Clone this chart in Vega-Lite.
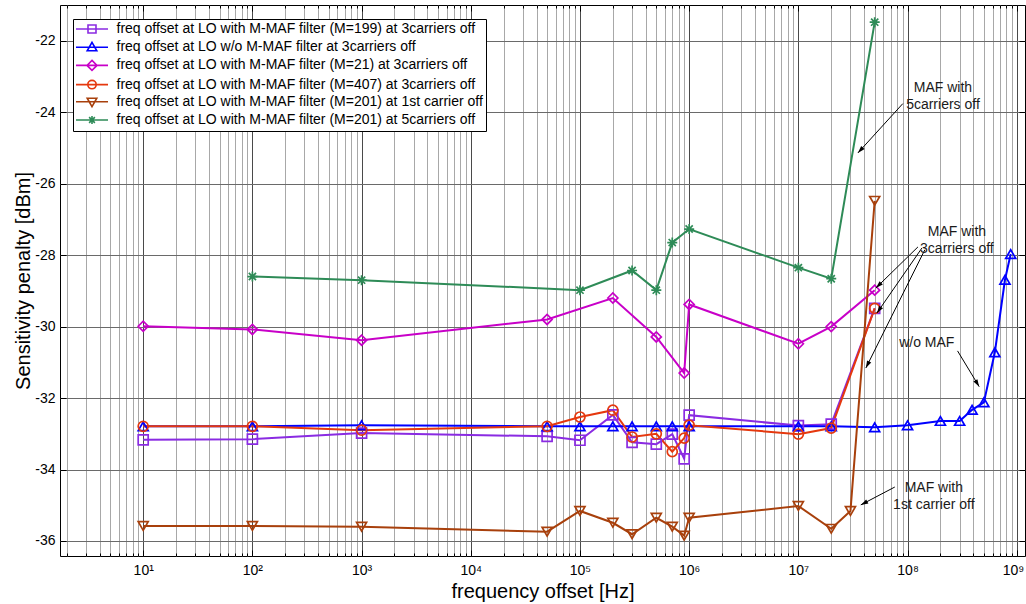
{
  "$schema": "https://vega.github.io/schema/vega-lite/v6.json",
  "width": 965,
  "height": 551,
  "autosize": {"type": "none"},
  "padding": {"left": 60, "top": 5, "right": 1, "bottom": 48},
  "background": "white",
  "config": {
    "view": {"stroke": "black", "strokeWidth": 1},
    "font": "Liberation Sans",
    "axis": {"labelColor": "black", "titleColor": "black", "labelFont": "Liberation Sans", "titleFont": "Liberation Sans", "titleFontWeight": "normal"}
  },
  "datasets": {
    "main": [
      {"series": "freq offset at LO with M-MAF filter (M=199) at 3carriers off", "freq": 10, "penalty": -33.17},
      {"series": "freq offset at LO with M-MAF filter (M=199) at 3carriers off", "freq": 100, "penalty": -33.15},
      {"series": "freq offset at LO with M-MAF filter (M=199) at 3carriers off", "freq": 1000, "penalty": -32.98},
      {"series": "freq offset at LO with M-MAF filter (M=199) at 3carriers off", "freq": 50000, "penalty": -33.07},
      {"series": "freq offset at LO with M-MAF filter (M=199) at 3carriers off", "freq": 100000, "penalty": -33.18},
      {"series": "freq offset at LO with M-MAF filter (M=199) at 3carriers off", "freq": 200000, "penalty": -32.47},
      {"series": "freq offset at LO with M-MAF filter (M=199) at 3carriers off", "freq": 300000, "penalty": -33.24},
      {"series": "freq offset at LO with M-MAF filter (M=199) at 3carriers off", "freq": 500000, "penalty": -33.29},
      {"series": "freq offset at LO with M-MAF filter (M=199) at 3carriers off", "freq": 700000, "penalty": -33.01},
      {"series": "freq offset at LO with M-MAF filter (M=199) at 3carriers off", "freq": 900000, "penalty": -33.7},
      {"series": "freq offset at LO with M-MAF filter (M=199) at 3carriers off", "freq": 1000000, "penalty": -32.48},
      {"series": "freq offset at LO with M-MAF filter (M=199) at 3carriers off", "freq": 10000000, "penalty": -32.77},
      {"series": "freq offset at LO with M-MAF filter (M=199) at 3carriers off", "freq": 20000000, "penalty": -32.73},
      {"series": "freq offset at LO with M-MAF filter (M=199) at 3carriers off", "freq": 50000000, "penalty": -29.49},

      {"series": "freq offset at LO w/o M-MAF filter  at 3carriers off", "freq": 10, "penalty": -32.79},
      {"series": "freq offset at LO w/o M-MAF filter  at 3carriers off", "freq": 100, "penalty": -32.79},
      {"series": "freq offset at LO w/o M-MAF filter  at 3carriers off", "freq": 1000, "penalty": -32.76},
      {"series": "freq offset at LO w/o M-MAF filter  at 3carriers off", "freq": 50000, "penalty": -32.79},
      {"series": "freq offset at LO w/o M-MAF filter  at 3carriers off", "freq": 100000, "penalty": -32.79},
      {"series": "freq offset at LO w/o M-MAF filter  at 3carriers off", "freq": 200000, "penalty": -32.79},
      {"series": "freq offset at LO w/o M-MAF filter  at 3carriers off", "freq": 300000, "penalty": -32.79},
      {"series": "freq offset at LO w/o M-MAF filter  at 3carriers off", "freq": 500000, "penalty": -32.79},
      {"series": "freq offset at LO w/o M-MAF filter  at 3carriers off", "freq": 700000, "penalty": -32.79},
      {"series": "freq offset at LO w/o M-MAF filter  at 3carriers off", "freq": 1000000, "penalty": -32.79},
      {"series": "freq offset at LO w/o M-MAF filter  at 3carriers off", "freq": 10000000, "penalty": -32.79},
      {"series": "freq offset at LO w/o M-MAF filter  at 3carriers off", "freq": 20000000, "penalty": -32.79},
      {"series": "freq offset at LO w/o M-MAF filter  at 3carriers off", "freq": 50000000, "penalty": -32.82},
      {"series": "freq offset at LO w/o M-MAF filter  at 3carriers off", "freq": 100000000, "penalty": -32.76},
      {"series": "freq offset at LO w/o M-MAF filter  at 3carriers off", "freq": 200000000, "penalty": -32.64},
      {"series": "freq offset at LO w/o M-MAF filter  at 3carriers off", "freq": 300000000, "penalty": -32.64},
      {"series": "freq offset at LO w/o M-MAF filter  at 3carriers off", "freq": 390000000, "penalty": -32.33},
      {"series": "freq offset at LO w/o M-MAF filter  at 3carriers off", "freq": 500000000, "penalty": -32.12},
      {"series": "freq offset at LO w/o M-MAF filter  at 3carriers off", "freq": 630000000, "penalty": -30.72},
      {"series": "freq offset at LO w/o M-MAF filter  at 3carriers off", "freq": 780000000, "penalty": -28.69},
      {"series": "freq offset at LO w/o M-MAF filter  at 3carriers off", "freq": 880000000, "penalty": -27.97},

      {"series": "freq offset at LO with M-MAF filter (M=21) at 3carriers off", "freq": 10, "penalty": -29.99},
      {"series": "freq offset at LO with M-MAF filter (M=21) at 3carriers off", "freq": 100, "penalty": -30.08},
      {"series": "freq offset at LO with M-MAF filter (M=21) at 3carriers off", "freq": 1000, "penalty": -30.38},
      {"series": "freq offset at LO with M-MAF filter (M=21) at 3carriers off", "freq": 50000, "penalty": -29.8},
      {"series": "freq offset at LO with M-MAF filter (M=21) at 3carriers off", "freq": 200000, "penalty": -29.2},
      {"series": "freq offset at LO with M-MAF filter (M=21) at 3carriers off", "freq": 500000, "penalty": -30.29},
      {"series": "freq offset at LO with M-MAF filter (M=21) at 3carriers off", "freq": 900000, "penalty": -31.3},
      {"series": "freq offset at LO with M-MAF filter (M=21) at 3carriers off", "freq": 1000000, "penalty": -29.38},
      {"series": "freq offset at LO with M-MAF filter (M=21) at 3carriers off", "freq": 10000000, "penalty": -30.48},
      {"series": "freq offset at LO with M-MAF filter (M=21) at 3carriers off", "freq": 20000000, "penalty": -30.0},
      {"series": "freq offset at LO with M-MAF filter (M=21) at 3carriers off", "freq": 50000000, "penalty": -28.98},

      {"series": "freq offset at LO with M-MAF filter (M=407) at 3carriers off", "freq": 10, "penalty": -32.79},
      {"series": "freq offset at LO with M-MAF filter (M=407) at 3carriers off", "freq": 100, "penalty": -32.79},
      {"series": "freq offset at LO with M-MAF filter (M=407) at 3carriers off", "freq": 1000, "penalty": -32.9},
      {"series": "freq offset at LO with M-MAF filter (M=407) at 3carriers off", "freq": 50000, "penalty": -32.79},
      {"series": "freq offset at LO with M-MAF filter (M=407) at 3carriers off", "freq": 100000, "penalty": -32.53},
      {"series": "freq offset at LO with M-MAF filter (M=407) at 3carriers off", "freq": 200000, "penalty": -32.34},
      {"series": "freq offset at LO with M-MAF filter (M=407) at 3carriers off", "freq": 300000, "penalty": -33.09},
      {"series": "freq offset at LO with M-MAF filter (M=407) at 3carriers off", "freq": 500000, "penalty": -33.0},
      {"series": "freq offset at LO with M-MAF filter (M=407) at 3carriers off", "freq": 700000, "penalty": -33.5},
      {"series": "freq offset at LO with M-MAF filter (M=407) at 3carriers off", "freq": 900000, "penalty": -33.12},
      {"series": "freq offset at LO with M-MAF filter (M=407) at 3carriers off", "freq": 1000000, "penalty": -32.76},
      {"series": "freq offset at LO with M-MAF filter (M=407) at 3carriers off", "freq": 10000000, "penalty": -33.01},
      {"series": "freq offset at LO with M-MAF filter (M=407) at 3carriers off", "freq": 20000000, "penalty": -32.84},
      {"series": "freq offset at LO with M-MAF filter (M=407) at 3carriers off", "freq": 50000000, "penalty": -29.49},

      {"series": "freq offset at LO with M-MAF filter (M=201) at 1st carrier off", "freq": 10, "penalty": -35.58},
      {"series": "freq offset at LO with M-MAF filter (M=201) at 1st carrier off", "freq": 100, "penalty": -35.58},
      {"series": "freq offset at LO with M-MAF filter (M=201) at 1st carrier off", "freq": 1000, "penalty": -35.6},
      {"series": "freq offset at LO with M-MAF filter (M=201) at 1st carrier off", "freq": 50000, "penalty": -35.74},
      {"series": "freq offset at LO with M-MAF filter (M=201) at 1st carrier off", "freq": 100000, "penalty": -35.16},
      {"series": "freq offset at LO with M-MAF filter (M=201) at 1st carrier off", "freq": 200000, "penalty": -35.49},
      {"series": "freq offset at LO with M-MAF filter (M=201) at 1st carrier off", "freq": 300000, "penalty": -35.81},
      {"series": "freq offset at LO with M-MAF filter (M=201) at 1st carrier off", "freq": 500000, "penalty": -35.35},
      {"series": "freq offset at LO with M-MAF filter (M=201) at 1st carrier off", "freq": 700000, "penalty": -35.6},
      {"series": "freq offset at LO with M-MAF filter (M=201) at 1st carrier off", "freq": 900000, "penalty": -35.85},
      {"series": "freq offset at LO with M-MAF filter (M=201) at 1st carrier off", "freq": 1000000, "penalty": -35.35},
      {"series": "freq offset at LO with M-MAF filter (M=201) at 1st carrier off", "freq": 10000000, "penalty": -35.02},
      {"series": "freq offset at LO with M-MAF filter (M=201) at 1st carrier off", "freq": 20000000, "penalty": -35.66},
      {"series": "freq offset at LO with M-MAF filter (M=201) at 1st carrier off", "freq": 30000000, "penalty": -35.16},
      {"series": "freq offset at LO with M-MAF filter (M=201) at 1st carrier off", "freq": 50000000, "penalty": -26.48},

      {"series": "freq offset at LO with M-MAF filter (M=201) at 5carriers off", "freq": 100, "penalty": -28.6},
      {"series": "freq offset at LO with M-MAF filter (M=201) at 5carriers off", "freq": 1000, "penalty": -28.7},
      {"series": "freq offset at LO with M-MAF filter (M=201) at 5carriers off", "freq": 100000, "penalty": -28.98},
      {"series": "freq offset at LO with M-MAF filter (M=201) at 5carriers off", "freq": 300000, "penalty": -28.43},
      {"series": "freq offset at LO with M-MAF filter (M=201) at 5carriers off", "freq": 500000, "penalty": -28.98},
      {"series": "freq offset at LO with M-MAF filter (M=201) at 5carriers off", "freq": 700000, "penalty": -27.65},
      {"series": "freq offset at LO with M-MAF filter (M=201) at 5carriers off", "freq": 1000000, "penalty": -27.27},
      {"series": "freq offset at LO with M-MAF filter (M=201) at 5carriers off", "freq": 10000000, "penalty": -28.35},
      {"series": "freq offset at LO with M-MAF filter (M=201) at 5carriers off", "freq": 20000000, "penalty": -28.66},
      {"series": "freq offset at LO with M-MAF filter (M=201) at 5carriers off", "freq": 50000000, "penalty": -21.48}
    ],
    "arrows": [
      {"x1": 90500000, "y1": -23.76, "x2": 35100000, "y2": -25.14, "heading": 222.6},
      {"x1": 124500000, "y1": -27.77, "x2": 51300000, "y2": -28.92, "heading": 225.7},
      {"x1": 135500000, "y1": -27.8, "x2": 52400000, "y2": -29.62, "heading": 214.7},
      {"x1": 144000000, "y1": -27.85, "x2": 41500000, "y2": -31.16, "heading": 206.6},
      {"x1": 287000000, "y1": -30.68, "x2": 453000000, "y2": -31.68, "heading": 148.8},
      {"x1": 76400000, "y1": -34.49, "x2": 37300000, "y2": -34.99, "heading": 242.1}
    ],
    "notes": [
      {"label": "MAF with\n5carriers off", "freq": 211000000, "penalty": -23.33},
      {"label": "MAF with\n3carriers off", "freq": 283000000, "penalty": -27.36},
      {"label": "w/o MAF", "freq": 150000000, "penalty": -30.46},
      {"label": "MAF with\n1st carrier off", "freq": 174000000, "penalty": -34.53}
    ]
  },
  "layer": [
    {
      "data": {"name": "main"},
      "mark": {"type": "line", "strokeWidth": 2, "clip": true},
      "encoding": {
        "x": {
          "field": "freq", "type": "quantitative",
          "scale": {"type": "log", "domain": [1.73, 1190000000], "nice": false},
          "axis": {
            "orient": "bottom",
            "values": [2,3,4,5,6,7,8,9,10,20,30,40,50,60,70,80,90,100,200,300,400,500,600,700,800,900,1000,2000,3000,4000,5000,6000,7000,8000,9000,10000,20000,30000,40000,50000,60000,70000,80000,90000,100000,200000,300000,400000,500000,600000,700000,800000,900000,1000000,2000000,3000000,4000000,5000000,6000000,7000000,8000000,9000000,10000000,20000000,30000000,40000000,50000000,60000000,70000000,80000000,90000000,100000000,200000000,300000000,400000000,500000000,600000000,700000000,800000000,900000000,1000000000],
            "grid": true,
            "gridColor": {"condition": {"test": "abs(log(datum.value)/LN10 - round(log(datum.value)/LN10)) < 0.001", "value": "#4a4a4a"}, "value": "#a8a8a8"},
            "gridWidth": 1,
            "ticks": false,
            "domain": false,
            "labelExpr": "abs(log(datum.value)/LN10 - round(log(datum.value)/LN10)) < 0.001 ? '10' + ['⁰','¹','²','³','⁴','⁵','⁶','⁷','⁸','⁹'][round(log(datum.value)/LN10)] : ''",
            "labelFontSize": 14,
            "labelPadding": 7,
            "labelOverlap": false,
            "labelFlush": 10,
            "labelFlushOffset": 7,
            "labelBound": false,
            "title": "frequency offset [Hz]",
            "titleFontSize": 20,
            "titlePadding": 4
          }
        },
        "y": {
          "field": "penalty", "type": "quantitative",
          "scale": {"domain": [-36.42, -21], "nice": false, "zero": false},
          "axis": {
            "orient": "left",
            "values": [-36, -34, -32, -30, -28, -26, -24, -22],
            "grid": true,
            "gridColor": "#6a6a6a",
            "ticks": false,
            "domain": false,
            "labelExpr": "datum.value + ''",
            "labelFontSize": 14,
            "labelPadding": 5,
            "title": "Sensitivity penalty [dBm]",
            "titleFontSize": 20,
            "titlePadding": 1
          }
        },
        "color": {
          "field": "series", "type": "nominal",
          "scale": {
            "domain": ["freq offset at LO with M-MAF filter (M=199) at 3carriers off", "freq offset at LO w/o M-MAF filter  at 3carriers off", "freq offset at LO with M-MAF filter (M=21) at 3carriers off", "freq offset at LO with M-MAF filter (M=407) at 3carriers off", "freq offset at LO with M-MAF filter (M=201) at 1st carrier off", "freq offset at LO with M-MAF filter (M=201) at 5carriers off"],
            "range": ["#8A2BE2", "#0000FF", "#C800C8", "#E5380E", "#A8400C", "#2E8B57"]
          },
          "legend": null
        }
      }
    },
    {
      "data": {"name": "main"},
      "mark": {"type": "point", "filled": false, "strokeWidth": 1.7, "size": 100, "opacity": 1, "clip": true},
      "encoding": {
        "x": {
          "field": "freq", "type": "quantitative",
          "axis": {
            "orient": "top",
            "values": [2,3,4,5,6,7,8,9,10,20,30,40,50,60,70,80,90,100,200,300,400,500,600,700,800,900,1000,2000,3000,4000,5000,6000,7000,8000,9000,10000,20000,30000,40000,50000,60000,70000,80000,90000,100000,200000,300000,400000,500000,600000,700000,800000,900000,1000000,2000000,3000000,4000000,5000000,6000000,7000000,8000000,9000000,10000000,20000000,30000000,40000000,50000000,60000000,70000000,80000000,90000000,100000000,200000000,300000000,400000000,500000000,600000000,700000000,800000000,900000000,1000000000],
            "grid": false, "labels": false, "domain": false, "title": null,
            "ticks": true, "tickColor": "black",
            "tickSize": {"condition": {"test": "abs(log(datum.value)/LN10 - round(log(datum.value)/LN10)) < 0.001", "value": -6}, "value": -3}
          }
        },
        "y": {
          "field": "penalty", "type": "quantitative",
          "axis": {
            "orient": "right",
            "values": [-36, -34, -32, -30, -28, -26, -24, -22],
            "grid": false, "labels": false, "domain": false, "title": null,
            "ticks": true, "tickColor": "black", "tickSize": -6
          }
        },
        "color": {
          "field": "series", "type": "nominal",
          "scale": {
            "domain": ["freq offset at LO with M-MAF filter (M=199) at 3carriers off", "freq offset at LO w/o M-MAF filter  at 3carriers off", "freq offset at LO with M-MAF filter (M=21) at 3carriers off", "freq offset at LO with M-MAF filter (M=407) at 3carriers off", "freq offset at LO with M-MAF filter (M=201) at 1st carrier off", "freq offset at LO with M-MAF filter (M=201) at 5carriers off"],
            "range": ["#8A2BE2", "#0000FF", "#C800C8", "#E5380E", "#A8400C", "#2E8B57"]
          },
          "legend": null
        },
        "shape": {
          "field": "series", "type": "nominal",
          "scale": {
            "domain": ["freq offset at LO with M-MAF filter (M=199) at 3carriers off", "freq offset at LO w/o M-MAF filter  at 3carriers off", "freq offset at LO with M-MAF filter (M=21) at 3carriers off", "freq offset at LO with M-MAF filter (M=407) at 3carriers off", "freq offset at LO with M-MAF filter (M=201) at 1st carrier off", "freq offset at LO with M-MAF filter (M=201) at 5carriers off"],
            "range": ["square", "triangle-up", "diamond", "circle", "triangle-down", "M0,-1V1M-1,0H1M-0.72,-0.72L0.72,0.72M-0.72,0.72L0.72,-0.72"]
          },
          "legend": null
        }
      }
    },
    {
      "data": {"name": "main"},
      "transform": [{"filter": "false"}],
      "mark": {"type": "point", "filled": false, "strokeWidth": 1.6, "opacity": 1},
      "encoding": {
        "x": {
          "field": "freq", "type": "quantitative",
          "axis": {
            "orient": "bottom",
            "values": [2,3,4,5,6,7,8,9,10,20,30,40,50,60,70,80,90,100,200,300,400,500,600,700,800,900,1000,2000,3000,4000,5000,6000,7000,8000,9000,10000,20000,30000,40000,50000,60000,70000,80000,90000,100000,200000,300000,400000,500000,600000,700000,800000,900000,1000000,2000000,3000000,4000000,5000000,6000000,7000000,8000000,9000000,10000000,20000000,30000000,40000000,50000000,60000000,70000000,80000000,90000000,100000000,200000000,300000000,400000000,500000000,600000000,700000000,800000000,900000000,1000000000],
            "grid": false, "labels": false, "domain": false, "title": null,
            "ticks": true, "tickColor": "black",
            "tickSize": {"condition": {"test": "abs(log(datum.value)/LN10 - round(log(datum.value)/LN10)) < 0.001", "value": -6}, "value": -3}
          }
        },
        "y": {
          "field": "penalty", "type": "quantitative",
          "axis": {
            "orient": "left",
            "values": [-36, -34, -32, -30, -28, -26, -24, -22],
            "grid": false, "labels": false, "domain": false, "title": null,
            "ticks": true, "tickColor": "black", "tickSize": -6
          }
        },
        "color": {
          "field": "series", "type": "nominal",
          "scale": {
            "domain": ["freq offset at LO with M-MAF filter (M=199) at 3carriers off", "freq offset at LO w/o M-MAF filter  at 3carriers off", "freq offset at LO with M-MAF filter (M=21) at 3carriers off", "freq offset at LO with M-MAF filter (M=407) at 3carriers off", "freq offset at LO with M-MAF filter (M=201) at 1st carrier off", "freq offset at LO with M-MAF filter (M=201) at 5carriers off"],
            "range": ["#8A2BE2", "#0000FF", "#C800C8", "#E5380E", "#A8400C", "#2E8B57"]
          },
          "legend": {
            "orient": "none", "legendX": 13, "legendY": 14,
            "title": null,
            "fillColor": "white", "strokeColor": "black", "padding": 3,
            "labelFont": "Liberation Sans", "labelFontSize": 14, "labelColor": "black", "labelLimit": 0,
            "labelExpr": "datum.label + '\u00a0\u00a0\u00a0'",
            "symbolSize": 64, "symbolStrokeWidth": 1.6, "symbolOffset": 9, "labelOffset": 17.5,
            "rowPadding": 2.2
          }
        },
        "shape": {
          "field": "series", "type": "nominal",
          "scale": {
            "domain": ["freq offset at LO with M-MAF filter (M=199) at 3carriers off", "freq offset at LO w/o M-MAF filter  at 3carriers off", "freq offset at LO with M-MAF filter (M=21) at 3carriers off", "freq offset at LO with M-MAF filter (M=407) at 3carriers off", "freq offset at LO with M-MAF filter (M=201) at 1st carrier off", "freq offset at LO with M-MAF filter (M=201) at 5carriers off"],
            "range": [
              "M-4,0H4M-1,-1H1V1H-1Z",
              "M-4,0H4M0,-1.2L1.2,0.9H-1.2Z",
              "M-4,0H4M0,-1.25L1.25,0L0,1.25L-1.25,0Z",
              "M-4,0H4M1.05,0A1.05,1.05,0,1,1,-1.05,0A1.05,1.05,0,1,1,1.05,0Z",
              "M-4,0H4M0,1.2L1.2,-0.9H-1.2Z",
              "M-4,0H4M0,-1V1M-0.72,-0.72L0.72,0.72M-0.72,0.72L0.72,-0.72"
            ]
          },
          "legend": {
            "orient": "none", "legendX": 13, "legendY": 14,
            "title": null,
            "fillColor": "white", "strokeColor": "black", "padding": 3,
            "labelFont": "Liberation Sans", "labelFontSize": 14, "labelColor": "black", "labelLimit": 0,
            "labelExpr": "datum.label + '\u00a0\u00a0\u00a0'",
            "symbolSize": 64, "symbolStrokeWidth": 1.6, "symbolOffset": 9, "labelOffset": 17.5,
            "rowPadding": 2.2
          }
        }
      }
    },
    {
      "data": {"name": "arrows"},
      "mark": {"type": "rule", "color": "black", "strokeWidth": 1},
      "encoding": {
        "x": {"field": "x1", "type": "quantitative", "axis": null},
        "y": {"field": "y1", "type": "quantitative", "axis": null},
        "x2": {"field": "x2"},
        "y2": {"field": "y2"}
      }
    },
    {
      "data": {"name": "arrows"},
      "mark": {"type": "point", "filled": true, "color": "black", "opacity": 1, "size": 60, "strokeWidth": 0, "shape": "M0,0L-0.6,1.9L0.6,1.9Z"},
      "encoding": {
        "x": {"field": "x2", "type": "quantitative", "axis": null},
        "y": {"field": "y2", "type": "quantitative", "axis": null},
        "angle": {"field": "heading", "type": "quantitative", "scale": null}
      }
    },
    {
      "data": {"name": "notes"},
      "mark": {"type": "text", "font": "Liberation Sans", "fontSize": 14, "color": "#1a1a1a", "align": "center", "baseline": "middle", "lineBreak": "\n", "lineHeight": 17},
      "encoding": {
        "x": {"field": "freq", "type": "quantitative", "axis": null},
        "y": {"field": "penalty", "type": "quantitative", "axis": null},
        "text": {"field": "label"}
      }
    }
  ],
  "resolve": {
    "scale": {"color": "independent", "shape": "independent"},
    "axis": {"x": "independent", "y": "independent"}
  }
}
